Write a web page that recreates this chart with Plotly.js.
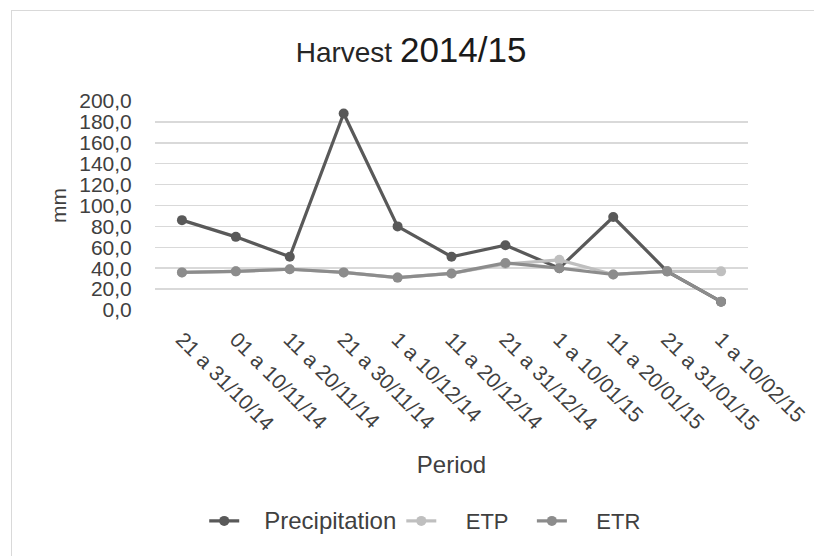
<!DOCTYPE html>
<html>
<head>
<meta charset="utf-8">
<script src="https://cdn.plot.ly/plotly-3.0.1.min.js"></script>
<style>
  html, body { margin: 0; padding: 0; background: #fff; }
  #frame { position: absolute; left: 11px; top: 10px; width: 803px; height: 546px;
           border-left: 1px solid #d9d9d9; border-top: 1px solid #d9d9d9; pointer-events: none; }
  #chart { width: 814px; height: 556px; }
</style>
</head>
<body>
<div id="chart"></div>
<div id="frame"></div>
<script>
const periods = ["21 a 31/10/14", "01 a 10/11/14", "11 a 20/11/14", "21 a 30/11/14",
                 "1 a 10/12/14", "11 a 20/12/14", "21 a 31/12/14", "1 a 10/01/15",
                 "11 a 20/01/15", "21 a 31/01/15", "1 a 10/02/15"];
const precipitation = [86, 70, 51, 188, 80, 51, 62, 40, 89, 37, 8];
const etp = [36, 37, 39, 36, 31, 35, 44, 48, 34, 37, 37];
const etr = [36, 37, 39, 36, 31, 35, 45, 40, 34, 37, 8];
const yTicks = [0, 20, 40, 60, 80, 100, 120, 140, 160, 180, 200];

const font = "Liberation Sans, Arial, sans-serif";
function series(name, y, color) {
  return { type: "scatter", mode: "lines+markers", name: name, x: periods, y: y,
           line: { color: color, width: 3.2 }, marker: { color: color, size: 10 } };
}
const traces = [
  series("<span style='font-size:24px'>&nbsp;&nbsp;&nbsp;Precipitation</span>", precipitation, "#595959"),
  series("&nbsp;&nbsp;&nbsp;&nbsp;ETP&nbsp;&nbsp;&nbsp;", etp, "#bfbfbf"),
  series("&nbsp;&nbsp;&nbsp;&nbsp;ETR", etr, "#8c8c8c")
];
const layout = {
  width: 814, height: 556,
  margin: { l: 155, r: 66, t: 101, b: 246 },
  paper_bgcolor: "#fff", plot_bgcolor: "#fff",
  font: { family: font, color: "#404040", size: 21 },
  separators: ",.",
  showlegend: true,
  title: { text: "Harvest <span style='font-size:35px;color:#1a1a1a'>2014/15</span>",
           font: { family: font, size: 28, color: "#262626" },
           xref: "container", x: 0.505, xanchor: "center",
           yref: "container", y: 0.907, yanchor: "middle" },
  xaxis: { type: "category", tickangle: 45, showgrid: false, zeroline: false,
           showline: false, ticks: "outside", ticklen: 8, tickcolor: "rgba(0,0,0,0)",
           tickfont: { size: 21, color: "#404040" },
           range: [-0.5, 10.5],
           title: { text: "Period", font: { size: 24, color: "#404040" }, standoff: 22 } },
  yaxis: { range: [0, 200], tickvals: yTicks, tickformat: ".1f",
           showgrid: true, gridcolor: "#d9d9d9", gridwidth: 1.5, zeroline: false,
           showline: false, ticks: "outside", ticklen: 18, tickcolor: "rgba(0,0,0,0)",
           tickfont: { size: 21, color: "#404040" },
           title: { text: "mm", font: { size: 21, color: "#404040" }, standoff: 6 } },
  legend: { orientation: "h", xref: "paper", yref: "paper", x: 0.083, xanchor: "left",
            y: -1.01, yanchor: "middle", font: { size: 22, color: "#404040" },
            tracegroupgap: 0 }
};
Plotly.newPlot("chart", traces, layout, { displayModeBar: false, staticPlot: true });
</script>
</body>
</html>
